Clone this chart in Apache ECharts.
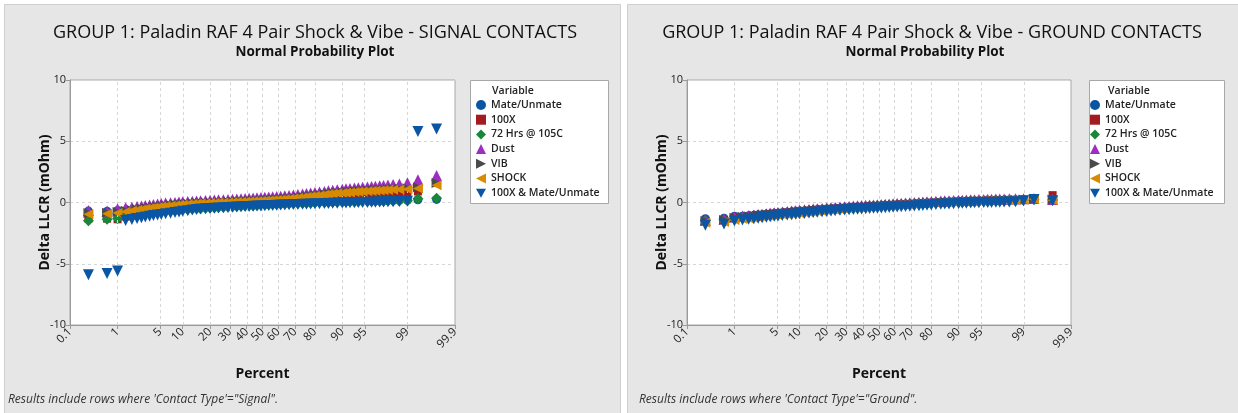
<!DOCTYPE html>
<html><head><meta charset="utf-8">
<script src="https://cdn.jsdelivr.net/npm/echarts@6/dist/echarts.min.js"></script>
<style>html,body{margin:0;padding:0;background:#fff}#c{width:1238px;height:413px}</style>
</head><body><div id="c"></div><script>
// ---------- data ----------
const percentPositions = [0.26,0.63,1.0,1.4,1.8,2.2,2.6,3.0,3.5,4.0,
4.6,5.2,6.0,7.0,8.0,9.0,10,11.5,13,14.5,
16,18,20,22,24,26.5,29,31.5,34,36.5,
39,41.5,44,46.5,49,51.5,54,56.5,59,61.5,
64,66.5,69,71.5,74,76,78,80,82,84,
85.5,87,88.5,90,91,92,93,93.8,94.6,95.4,
96,96.5,97,97.4,97.8,98.2,98.6,99.0,99.37,99.74];
const tickPercents = [0.1,1,5,10,20,30,40,50,60,70,80,90,95,99,99.9];
const tickLabels = ['0.1','1','5','10','20','30','40','50','60','70','80','90','95','99','99.9'];
const yTickValues = [-10,-5,0,5,10];
const variableNames = ['Mate/Unmate','100X','72 Hrs @ 105C','Dust','VIB','SHOCK','100X & Mate/Unmate'];

// SIGNAL contacts
const sigMateUnmate = [-0.7,-0.72,-0.65,-0.9,-0.85,-0.8,-0.76,-0.72,-0.68,-0.65,
-0.62,-0.59,-0.56,-0.53,-0.5,-0.48,-0.46,-0.43,-0.41,-0.39,
-0.37,-0.35,-0.33,-0.31,-0.29,-0.27,-0.26,-0.24,-0.22,-0.21,
-0.19,-0.18,-0.16,-0.15,-0.13,-0.12,-0.1,-0.09,-0.07,-0.06,
-0.05,-0.03,-0.02,0.0,0.01,0.02,0.03,0.04,0.05,0.06,
0.07,0.08,0.09,0.1,0.11,0.12,0.12,0.13,0.14,0.14,
0.15,0.15,0.16,0.17,0.17,0.18,0.19,0.2,0.22,0.25];
const sig100X = [-1.3,-1.32,-1.37,-1.15,-1.05,-0.97,-0.9,-0.84,-0.78,-0.73,
-0.68,-0.64,-0.6,-0.56,-0.52,-0.49,-0.46,-0.43,-0.4,-0.37,
-0.34,-0.31,-0.28,-0.26,-0.24,-0.21,-0.19,-0.17,-0.15,-0.13,
-0.11,-0.09,-0.07,-0.05,-0.03,-0.01,0.01,0.03,0.05,0.07,
0.09,0.11,0.13,0.15,0.17,0.2,0.22,0.25,0.28,0.31,
0.34,0.37,0.4,0.43,0.45,0.47,0.5,0.52,0.54,0.57,
0.59,0.61,0.63,0.65,0.67,0.7,0.73,0.78,0.9,1.6];
const sig72Hrs = [-1.48,-1.37,-1.3,-1.2,-1.12,-1.05,-0.99,-0.94,-0.89,-0.85,
-0.81,-0.77,-0.73,-0.69,-0.66,-0.63,-0.6,-0.57,-0.54,-0.52,
-0.5,-0.47,-0.45,-0.43,-0.41,-0.39,-0.37,-0.35,-0.33,-0.31,
-0.29,-0.27,-0.26,-0.24,-0.22,-0.21,-0.19,-0.17,-0.16,-0.14,
-0.13,-0.11,-0.1,-0.08,-0.07,-0.05,-0.04,-0.02,-0.01,0.0,
0.01,0.02,0.03,0.04,0.05,0.06,0.07,0.07,0.08,0.09,
0.09,0.1,0.1,0.11,0.12,0.12,0.13,0.15,0.3,0.35];
const sigDust = [-0.65,-0.7,-0.5,-0.43,-0.38,-0.33,-0.28,-0.24,-0.2,-0.16,
-0.12,-0.09,-0.05,-0.02,0.01,0.04,0.06,0.09,0.11,0.13,
0.15,0.17,0.19,0.2,0.22,0.23,0.25,0.27,0.29,0.31,
0.33,0.35,0.37,0.39,0.41,0.43,0.45,0.47,0.5,0.52,
0.55,0.58,0.61,0.65,0.7,0.74,0.78,0.82,0.86,0.9,
0.95,1.0,1.05,1.09,1.12,1.15,1.18,1.21,1.24,1.27,
1.3,1.33,1.36,1.39,1.42,1.46,1.52,1.62,1.85,2.2];
const sigVIB = [-0.85,-0.83,-0.78,-0.68,-0.61,-0.55,-0.5,-0.45,-0.4,-0.36,
-0.32,-0.28,-0.24,-0.2,-0.17,-0.14,-0.11,-0.08,-0.06,-0.04,
-0.03,-0.01,0.01,0.02,0.04,0.05,0.07,0.08,0.1,0.11,
0.13,0.14,0.16,0.17,0.19,0.21,0.23,0.25,0.27,0.29,
0.32,0.35,0.38,0.42,0.46,0.5,0.54,0.59,0.64,0.69,
0.73,0.77,0.81,0.85,0.88,0.9,0.93,0.95,0.97,1.0,
1.02,1.04,1.06,1.08,1.1,1.12,1.14,1.17,1.25,1.6];
const sigSHOCK = [-0.96,-0.92,-0.85,-0.75,-0.68,-0.62,-0.57,-0.52,-0.47,-0.43,
-0.39,-0.35,-0.31,-0.27,-0.24,-0.21,-0.18,-0.15,-0.13,-0.11,
-0.09,-0.07,-0.05,-0.04,-0.02,-0.01,0.01,0.02,0.04,0.05,
0.07,0.08,0.1,0.11,0.13,0.15,0.17,0.19,0.21,0.23,
0.26,0.29,0.32,0.36,0.4,0.44,0.48,0.53,0.58,0.63,
0.67,0.71,0.75,0.78,0.8,0.82,0.85,0.87,0.89,0.92,
0.94,0.96,0.98,1.0,1.02,1.04,1.06,1.08,1.15,1.4];
const sig100XMate = [-5.9,-5.8,-5.6,-1.47,-1.38,-1.3,-1.24,-1.18,-1.12,-1.07,
-1.02,-0.97,-0.92,-0.87,-0.82,-0.77,-0.72,-0.67,-0.62,-0.58,
-0.54,-0.51,-0.48,-0.46,-0.44,-0.42,-0.4,-0.38,-0.36,-0.35,
-0.33,-0.32,-0.3,-0.29,-0.28,-0.26,-0.25,-0.24,-0.22,-0.21,
-0.2,-0.19,-0.17,-0.16,-0.15,-0.14,-0.13,-0.11,-0.1,-0.09,
-0.08,-0.07,-0.06,-0.05,-0.04,-0.03,-0.02,-0.01,0.0,0.01,
0.02,0.03,0.04,0.05,0.06,0.07,0.08,0.1,5.8,6.0];

// GROUND contacts
const gndMateUnmate = [-1.32,-1.28,-1.12,-1.12,-1.08,-1.05,-1.02,-0.99,-0.96,-0.93,
-0.9,-0.87,-0.84,-0.81,-0.78,-0.75,-0.72,-0.69,-0.66,-0.63,
-0.6,-0.57,-0.54,-0.51,-0.49,-0.46,-0.43,-0.41,-0.39,-0.37,
-0.35,-0.33,-0.31,-0.29,-0.28,-0.26,-0.24,-0.22,-0.2,-0.18,
-0.16,-0.14,-0.12,-0.1,-0.08,-0.06,-0.04,-0.02,0.0,0.02,
0.04,0.05,0.07,0.08,0.09,0.11,0.12,0.13,0.14,0.15,
0.16,0.17,0.18,0.19,0.2,0.21,0.22,0.24,0.3,0.22];
const gnd100X = [-1.5,-1.45,-1.28,-1.2,-1.15,-1.11,-1.07,-1.04,-1.0,-0.97,
-0.93,-0.9,-0.86,-0.83,-0.8,-0.77,-0.74,-0.71,-0.68,-0.65,
-0.62,-0.59,-0.56,-0.53,-0.51,-0.48,-0.45,-0.43,-0.41,-0.39,
-0.37,-0.35,-0.33,-0.32,-0.3,-0.28,-0.26,-0.24,-0.22,-0.2,
-0.18,-0.16,-0.14,-0.12,-0.1,-0.08,-0.06,-0.04,-0.02,0.0,
0.02,0.03,0.05,0.06,0.07,0.09,0.1,0.11,0.12,0.13,
0.14,0.15,0.16,0.17,0.18,0.19,0.2,0.22,0.3,0.6];
const gnd72Hrs = [-1.45,-1.4,-1.32,-1.25,-1.2,-1.16,-1.12,-1.09,-1.05,-1.02,
-0.98,-0.95,-0.91,-0.88,-0.85,-0.82,-0.79,-0.76,-0.73,-0.7,
-0.67,-0.64,-0.61,-0.58,-0.56,-0.53,-0.5,-0.48,-0.46,-0.44,
-0.42,-0.4,-0.38,-0.37,-0.35,-0.33,-0.31,-0.29,-0.27,-0.25,
-0.23,-0.21,-0.19,-0.17,-0.15,-0.13,-0.11,-0.09,-0.07,-0.05,
-0.03,-0.02,0.0,0.01,0.02,0.04,0.05,0.06,0.07,0.08,
0.09,0.1,0.11,0.12,0.13,0.14,0.15,0.17,0.25,0.2];
const gndDust = [-1.45,-1.35,-1.18,-1.11,-1.06,-1.02,-0.98,-0.95,-0.91,-0.88,
-0.84,-0.81,-0.77,-0.73,-0.7,-0.67,-0.64,-0.6,-0.57,-0.54,
-0.51,-0.48,-0.45,-0.42,-0.4,-0.37,-0.34,-0.32,-0.29,-0.27,
-0.25,-0.23,-0.21,-0.2,-0.18,-0.16,-0.14,-0.12,-0.1,-0.08,
-0.06,-0.04,-0.02,0.0,0.02,0.04,0.06,0.08,0.1,0.12,
0.14,0.15,0.17,0.18,0.19,0.21,0.22,0.23,0.24,0.25,
0.26,0.27,0.28,0.29,0.29,0.3,0.3,0.31,0.33,0.25];
const gndVIB = [-1.5,-1.42,-1.24,-1.17,-1.12,-1.08,-1.04,-1.01,-0.97,-0.94,
-0.9,-0.87,-0.83,-0.8,-0.77,-0.74,-0.71,-0.68,-0.65,-0.62,
-0.59,-0.56,-0.53,-0.5,-0.48,-0.45,-0.42,-0.4,-0.38,-0.36,
-0.34,-0.32,-0.3,-0.29,-0.27,-0.25,-0.23,-0.21,-0.19,-0.17,
-0.15,-0.13,-0.11,-0.09,-0.07,-0.05,-0.03,-0.01,0.01,0.03,
0.05,0.06,0.08,0.09,0.1,0.12,0.13,0.14,0.15,0.16,
0.17,0.18,0.19,0.2,0.21,0.22,0.23,0.25,0.3,0.22];
const gndSHOCK = [-1.65,-1.6,-1.42,-1.35,-1.3,-1.26,-1.22,-1.19,-1.15,-1.12,
-1.08,-1.05,-1.01,-0.97,-0.94,-0.91,-0.88,-0.84,-0.81,-0.78,
-0.74,-0.71,-0.67,-0.64,-0.61,-0.58,-0.55,-0.52,-0.49,-0.47,
-0.44,-0.42,-0.39,-0.37,-0.35,-0.33,-0.3,-0.28,-0.26,-0.23,
-0.21,-0.19,-0.16,-0.14,-0.12,-0.1,-0.08,-0.06,-0.03,-0.01,
0.01,0.03,0.04,0.06,0.07,0.09,0.1,0.11,0.12,0.13,
0.14,0.15,0.16,0.17,0.18,0.19,0.2,0.22,0.27,0.18];
const gnd100XMate = [-1.85,-1.75,-1.5,-1.42,-1.37,-1.33,-1.29,-1.25,-1.21,-1.17,
-1.13,-1.1,-1.06,-1.02,-0.99,-0.96,-0.92,-0.89,-0.85,-0.82,
-0.79,-0.76,-0.73,-0.7,-0.67,-0.64,-0.61,-0.59,-0.57,-0.55,
-0.53,-0.51,-0.49,-0.47,-0.46,-0.44,-0.42,-0.4,-0.38,-0.36,
-0.34,-0.32,-0.3,-0.28,-0.26,-0.24,-0.22,-0.2,-0.17,-0.15,
-0.13,-0.12,-0.1,-0.09,-0.07,-0.06,-0.05,-0.03,-0.02,-0.01,
0.0,0.01,0.02,0.03,0.04,0.05,0.06,0.15,0.25,0.15];

// ---------- helpers ----------
function probit(p){
  const a=[-3.969683028665376e+01,2.209460984245205e+02,-2.759285104469687e+02,1.383577518672690e+02,-3.066479806614716e+01,2.506628277459239e+00];
  const b=[-5.447609879822406e+01,1.615858368580409e+02,-1.556989798598866e+02,6.680131188771972e+01,-1.328068155288572e+01];
  const c=[-7.784894002430293e-03,-3.223964580411365e-01,-2.400758277161838e+00,-2.549732539343734e+00,4.374664141464968e+00,2.938163982698783e+00];
  const d=[7.784695709041462e-03,3.224671290700398e-01,2.445134137142996e+00,3.754408661907416e+00];
  const pl=0.02425, ph=1-pl; let q,r;
  if(p<pl){q=Math.sqrt(-2*Math.log(p));return (((((c[0]*q+c[1])*q+c[2])*q+c[3])*q+c[4])*q+c[5])/((((d[0]*q+d[1])*q+d[2])*q+d[3])*q+1);}
  if(p<=ph){q=p-0.5;r=q*q;return (((((a[0]*r+a[1])*r+a[2])*r+a[3])*r+a[4])*r+a[5])*q/(((((b[0]*r+b[1])*r+b[2])*r+b[3])*r+b[4])*r+1);}
  q=Math.sqrt(-2*Math.log(1-p));return -(((((c[0]*q+c[1])*q+c[2])*q+c[3])*q+c[4])*q+c[5])/((((d[0]*q+d[1])*q+d[2])*q+d[3])*q+1);
}
const tickZ = tickPercents.map(p=>probit(p/100));
const zMin = tickZ[0], zMax = tickZ[tickZ.length-1];
const FONT = "'Open Sans','Noto Sans','DejaVu Sans',sans-serif";

const styles = [
  {color:'#0b56a4', symbol:'circle', size:9},
  {color:'#a11b1f', symbol:'rect', size:8},
  {color:'#18873a', symbol:'diamond', size:11},
  {color:'#9c2ec2', symbol:'triangle', size:11},
  {color:'#4a4a4a', symbol:'path://M0,0L10,5L0,10Z', size:10},
  {color:'#d88a00', symbol:'path://M10,0L0,5L10,10Z', size:10},
  {color:'#0b56a4', symbol:'path://M0,0L10,0L5,9Z', size:11}
];

const signalSets = [sigMateUnmate,sig100X,sig72Hrs,sigDust,sigVIB,sigSHOCK,sig100XMate];
const groundSets = [gndMateUnmate,gnd100X,gnd72Hrs,gndDust,gndVIB,gndSHOCK,gnd100XMate];

function seriesFor(g, sets){
  const out = [{
    type:'scatter', xAxisIndex:g, yAxisIndex:g, data:[[0,-100]], symbolSize:0, silent:true, z:1,
    markLine:{silent:true, symbol:['none','none'], label:{show:false}, animation:false,
      lineStyle:{color:'#d6d6d6', type:[3,3], width:1},
      data: tickZ.slice(1,-1).map(z=>({xAxis:z}))}
  }];
  sets.forEach((arr,i)=>{
    out.push({
      type:'scatter', name:variableNames[i], xAxisIndex:g, yAxisIndex:g,
      data: percentPositions.map((p,k)=>[probit(p/100), arr[k]]),
      symbol: styles[i].symbol, symbolSize: styles[i].size,
      itemStyle:{color:styles[i].color, opacity:1},
      emphasis:{disabled:true}, z: 2+i, animation:false
    });
  });
  return out;
}

function xAxisFor(g){
  return {
    type:'value', gridIndex:g, min:zMin, max:zMax,
    axisLine:{show:true, onZero:false, lineStyle:{color:'#9a9a9a'}},
    axisTick:{show:true, customValues:tickZ, length:4, lineStyle:{color:'#9a9a9a'}},
    axisLabel:{customValues:tickZ, rotate:45, margin:5, fontSize:11.5, color:'#222', fontFamily:FONT,
      formatter:(v)=>{const i=tickZ.findIndex(z=>Math.abs(z-v)<1e-9);return i>=0?tickLabels[i]:'';}},
    splitLine:{show:false},
    name:'Percent', nameLocation:'middle', nameGap:42,
    nameTextStyle:{fontSize:14, fontWeight:'bold', color:'#111', fontFamily:FONT}
  };
}
function yAxisFor(g){
  return {
    type:'value', gridIndex:g, min:-10, max:10, interval:2.5,
    axisLine:{show:true, onZero:false, lineStyle:{color:'#9a9a9a'}},
    axisTick:{show:true, customValues:yTickValues, length:4, lineStyle:{color:'#9a9a9a'}},
    axisLabel:{customValues:yTickValues, margin:4, fontSize:11, color:'#222', fontFamily:FONT},
    splitLine:{show:true, lineStyle:{color:'#d6d6d6', type:[3,3], width:1}},
    name:'Delta LLCR (mOhm)', nameLocation:'middle', nameGap:18, nameRotate:90, nameMoveOverlap:false,
    nameTextStyle:{fontSize:14, fontWeight:'bold', color:'#111', fontFamily:FONT}
  };
}
function legendFor(left){
  return {
    orient:'vertical', left:left, top:99, padding:0, itemWidth:10, itemHeight:10, itemGap:2.7,
    selectedMode:false,
    data: variableNames.map((n,i)=>({name:n, icon: styles[i].symbol})),
    textStyle:{fontSize:10.5, lineHeight:12, color:'#222', fontWeight:600, fontFamily:FONT}
  };
}

const chart = echarts.init(document.getElementById('c'), null, {renderer:'canvas'});
chart.setOption({
  animation:false,
  backgroundColor:'#ffffff',
  graphic:[
    {type:'rect', shape:{x:4.5,y:4.5,width:616,height:420}, style:{fill:'#e6e6e6', stroke:'#cfcfcf', lineWidth:1}, z:-10},
    {type:'rect', shape:{x:627.5,y:4.5,width:620,height:420}, style:{fill:'#e6e6e6', stroke:'#cfcfcf', lineWidth:1}, z:-10},
    {type:'rect', shape:{x:470.5,y:80.5,width:138,height:123}, style:{fill:'#fff', stroke:'#a8a8a8', lineWidth:1}, z:-5},
    {type:'rect', shape:{x:1089.5,y:80.5,width:135,height:123}, style:{fill:'#fff', stroke:'#a8a8a8', lineWidth:1}, z:-5},
    {type:'text', x:315, y:33, style:{text:'GROUP 1: Paladin RAF 4 Pair Shock & Vibe - SIGNAL CONTACTS', font:'18px '+FONT, fill:'#111', textAlign:'center', textVerticalAlign:'middle'}},
    {type:'text', x:315, y:52, style:{text:'Normal Probability Plot', font:'bold 13.5px '+FONT, fill:'#111', textAlign:'center', textVerticalAlign:'middle'}},
    {type:'text', x:932, y:33, style:{text:'GROUP 1: Paladin RAF 4 Pair Shock & Vibe - GROUND CONTACTS', font:'18px '+FONT, fill:'#111', textAlign:'center', textVerticalAlign:'middle'}},
    {type:'text', x:925, y:52, style:{text:'Normal Probability Plot', font:'bold 13.5px '+FONT, fill:'#111', textAlign:'center', textVerticalAlign:'middle'}},
    {type:'text', x:492, y:91, style:{text:'Variable', font:'600 10.5px '+FONT, fill:'#222', textAlign:'left', textVerticalAlign:'middle'}},
    {type:'text', x:1108, y:91, style:{text:'Variable', font:'600 10.5px '+FONT, fill:'#222', textAlign:'left', textVerticalAlign:'middle'}},
    {type:'text', x:8, y:400, style:{text:'Results include rows where \'Contact Type\'="Signal".', font:'italic 12px '+FONT, fill:'#333', textAlign:'left', textVerticalAlign:'middle'}},
    {type:'text', x:639, y:400, style:{text:'Results include rows where \'Contact Type\'="Ground".', font:'italic 12px '+FONT, fill:'#333', textAlign:'left', textVerticalAlign:'middle'}}
  ],
  grid:[
    {left:70, top:80, width:385, height:245, show:true, backgroundColor:'#fff', borderColor:'#a8a8a8', borderWidth:1, containLabel:false},
    {left:687, top:80, width:384, height:245, show:true, backgroundColor:'#fff', borderColor:'#a8a8a8', borderWidth:1, containLabel:false}
  ],
  xAxis:[xAxisFor(0), xAxisFor(1)],
  yAxis:[yAxisFor(0), yAxisFor(1)],
  legend:[legendFor(476), legendFor(1090)],
  tooltip:{show:false},
  series:[...seriesFor(0, signalSets), ...seriesFor(1, groundSets)]
});
</script></body></html>
